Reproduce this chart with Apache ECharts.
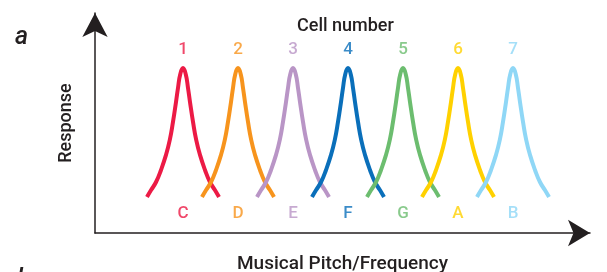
<!DOCTYPE html>
<html>
<head>
<meta charset="utf-8">
<script src="https://cdn.jsdelivr.net/npm/echarts@6/dist/echarts.min.js"></script>
<style>
  html, body { margin: 0; padding: 0; background: #fff; }
  #chart { width: 607px; height: 272px; }
</style>
</head>
<body>
<div id="chart"></div>
<script>
// cells (one tuning curve per cell), placed on the pitch axis
const cellNumbers = ['1', '2', '3', '4', '5', '6', '7'];
const noteNames = ['C', 'D', 'E', 'F', 'G', 'A', 'B'];
const peakPitch = [1, 2, 3, 4, 5, 6, 7];
const cellColors = ['#ec1a45', '#f7941d', '#b995c6', '#0a6fba', '#6cbd6f', '#ffd100', '#8fd7f6'];

// tuning curve shape (offset from the peak, response)
const shapeOffset = [-0.655, -0.58, -0.49, -0.40, -0.309, -0.24, -0.182, -0.127, -0.091, -0.05, 0,
                      0.05, 0.091, 0.127, 0.182, 0.24, 0.309, 0.40, 0.49, 0.58, 0.655];
const shapeResponse = [0.218, 0.26, 0.309, 0.382, 0.473, 0.564, 0.673, 0.794, 0.879, 0.962, 1.0,
                       0.962, 0.879, 0.794, 0.673, 0.564, 0.473, 0.382, 0.309, 0.26, 0.218];

// where the text rows sit on the response scale
const numberRow = 1.109;
const noteRow = 0.115;

const font = 'Roboto, "DejaVu Sans", sans-serif';
const ink = '#231f20';

var chart = echarts.init(document.getElementById('chart'));

const curves = peakPitch.map((p, i) => ({
  type: 'line',
  smooth: 0.5,
  symbol: 'none',
  lineStyle: { color: cellColors[i], width: 4 },
  data: shapeOffset.map((o, k) => [p + o, shapeResponse[k]])
}));

// cell numbers above peaks, note names under the curves
const textRow = (row, texts) => ({
  type: 'scatter',
  symbolSize: 0,
  silent: true,
  data: peakPitch.map((p, i) => ({
    value: [p, row],
    label: {
      show: true,
      position: 'inside',
      formatter: texts[i],
      color: cellColors[i],
      fontFamily: font,
      fontWeight: 500,
      fontSize: 17
    }
  }))
});

const option = {
  animation: false,
  backgroundColor: '#fff',
  title: [
    { text: 'Cell number', left: 292, top: 12,
      textStyle: { fontFamily: font, fontSize: 18, fontWeight: 500, color: ink } },
    { text: 'Musical Pitch/Frequency', left: 232, top: 250,
      textStyle: { fontFamily: font, fontSize: 19, fontWeight: 500, color: ink } },
    { text: 'a', left: 10, top: 20,
      textStyle: { fontFamily: font, fontSize: 25, fontStyle: 'italic', fontWeight: 500, color: ink } },
    { text: 'b', left: 12, top: 262,
      textStyle: { fontFamily: font, fontSize: 25, fontStyle: 'italic', fontWeight: 500, color: ink } }
  ],
  grid: { left: 95, right: 17, top: 13, bottom: 39 },
  xAxis: {
    type: 'value',
    min: -0.6,
    max: 8.4,
    axisLine: {
      show: true,
      onZero: false,
      symbol: ['none', 'arrow'],
      symbolSize: [20, 22],
      lineStyle: { color: ink, width: 1.5 }
    },
    axisTick: { show: false },
    axisLabel: { show: false },
    splitLine: { show: false }
  },
  yAxis: {
    type: 'value',
    min: 0,
    max: 1.333,
    name: 'Response',
    nameLocation: 'middle',
    nameGap: 20,
    nameTextStyle: { fontFamily: font, fontSize: 18, fontWeight: 500, color: ink },
    axisLine: {
      show: true,
      onZero: false,
      symbol: ['none', 'arrow'],
      symbolSize: [19, 24],
      lineStyle: { color: ink, width: 1.5 }
    },
    axisTick: { show: false },
    axisLabel: { show: false },
    splitLine: { show: false }
  },
  series: curves.concat([textRow(numberRow, cellNumbers), textRow(noteRow, noteNames)])
};

chart.setOption(option);
</script>
</body>
</html>
